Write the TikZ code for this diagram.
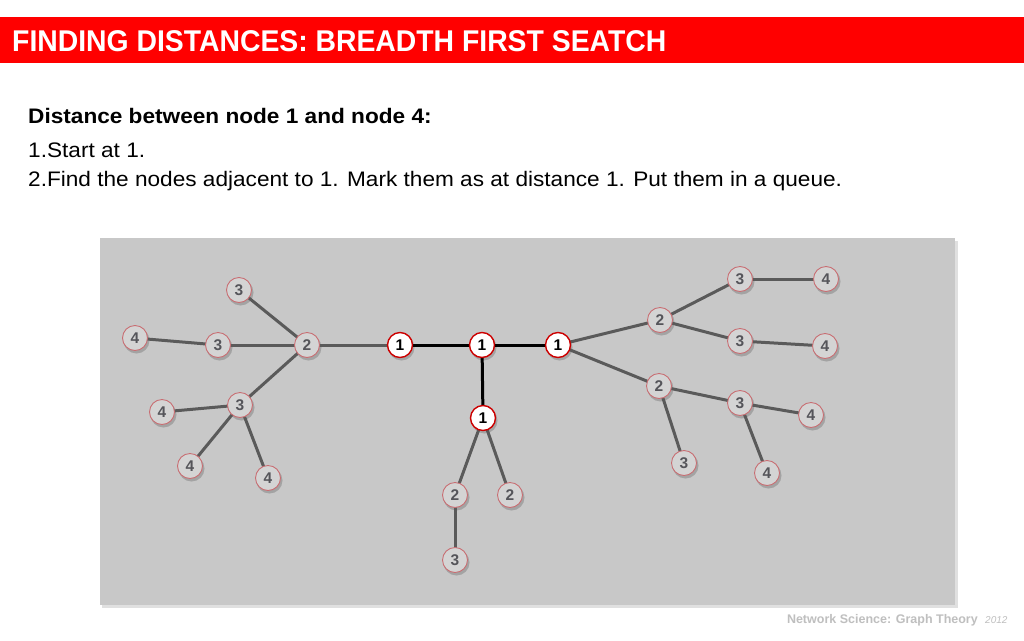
\documentclass[tikz,border=0pt]{standalone}
\usepackage{fontspec}
\setmainfont{Liberation Sans}
\pgfdeclarelayer{back}
\pgfdeclarelayer{edges}
\pgfsetlayers{back,edges,main}
\begin{document}
\begin{tikzpicture}[x=1pt,y=-1pt,
  gnode/.style={circle,draw=nodeborder,line width=0.9pt,fill=nodefill,minimum size=25pt,inner sep=0pt,font=\fontsize{15.5}{15.5}\selectfont\bfseries,text=nodetext},
  wnode/.style={circle,draw=red!80!black,line width=1.4pt,fill=white,minimum size=25pt,inner sep=0pt,font=\fontsize{15.5}{15.5}\selectfont\bfseries,text=black},
  gedge/.style={draw=edgegray,line width=3pt},
  bedge/.style={draw=black,line width=3pt},
  shadowc/.style={fill=black,opacity=0.18,circle,minimum size=26pt,inner sep=0pt}
]
\definecolor{nodeborder}{RGB}{200,110,115}
\definecolor{nodefill}{RGB}{212,212,212}
\definecolor{nodetext}{RGB}{85,85,90}
\definecolor{edgegray}{RGB}{90,90,90}
\definecolor{boxgray}{RGB}{200,200,200}
\definecolor{titlered}{RGB}{255,0,0}
\useasboundingbox (0,0) rectangle (1024,640);
\begin{pgfonlayer}{back}
\fill[white] (0,0) rectangle (1024,640);
\fill[black,opacity=0.12] (102,241) rectangle (958,608);
\fill[boxgray] (100,238) rectangle (955,605);
\end{pgfonlayer}
% title bar
\fill[titlered] (0,17) rectangle (1024,63);
\node[anchor=base west,inner sep=0pt,text=white,font=\fontsize{30}{30}\selectfont\bfseries,xscale=0.945] (title) at (12,51) {FINDING DISTANCES: BREADTH FIRST SEATCH};
% text
\node[anchor=base west,inner sep=0pt,font=\fontsize{21}{21}\selectfont\bfseries,xscale=1.077] (t1) at (28,123) {Distance between node 1 and node 4:};
\node[anchor=base west,inner sep=0pt,font=\fontsize{21}{21}\selectfont,xscale=1.077] (t2) at (28,157) {1.Start at 1.};
\node[anchor=base west,inner sep=0pt,font=\fontsize{21}{21}\selectfont,xscale=1.077] (t3) at (28,186) {2.Find the nodes adjacent to 1. Mark them as at distance 1. Put them in a queue.};
% footer
\node[anchor=base east,inner sep=0pt,text=black!25,font=\fontsize{12.5}{12.5}\selectfont\bfseries] (foot) at (978,623) {Network Science: Graph Theory};
\node[anchor=base west,inner sep=0pt,text=black!25,font=\fontsize{10}{10}\selectfont\itshape] (year) at (985,623) {2012};
% node positions
\coordinate (pA) at (400,345);
\coordinate (pB) at (482,345);
\coordinate (pC) at (558,345);
\coordinate (pD) at (483,418);
\coordinate (pL2) at (307,345);
\coordinate (pL3a) at (239,290);
\coordinate (pL3b) at (218,345);
\coordinate (pL3c) at (240,405);
\coordinate (pL4a) at (135,338);
\coordinate (pL4b) at (162,412);
\coordinate (pL4c) at (190,466);
\coordinate (pL4d) at (268,478);
\coordinate (pM2a) at (455,495);
\coordinate (pM2b) at (510,495);
\coordinate (pM3) at (455,560);
\coordinate (pR2a) at (660,320);
\coordinate (pR2b) at (659,386);
\coordinate (pR3a) at (740,279);
\coordinate (pR3b) at (740,341);
\coordinate (pR3c) at (740,403);
\coordinate (pR3d) at (684,463);
\coordinate (pR4a) at (826,279);
\coordinate (pR4b) at (825,346);
\coordinate (pR4c) at (811,415);
\coordinate (pR4d) at (767,473);
% shadows
\begin{pgfonlayer}{back}
\foreach \p in {pA,pB,pC,pD,pL2,pL3a,pL3b,pL3c,pL4a,pL4b,pL4c,pL4d,pM2a,pM2b,pM3,pR2a,pR2b,pR3a,pR3b,pR3c,pR3d,pR4a,pR4b,pR4c,pR4d}
  \node[shadowc] at ([shift={(1.5,2.5)}]\p) {};
\end{pgfonlayer}
% nodes
\node[wnode] (A) at (pA) {1};
\node[wnode] (B) at (pB) {1};
\node[wnode] (C) at (pC) {1};
\node[wnode] (D) at (pD) {1};
\node[gnode] (L2) at (pL2) {2};
\node[gnode] (L3a) at (pL3a) {3};
\node[gnode] (L3b) at (pL3b) {3};
\node[gnode] (L3c) at (pL3c) {3};
\node[gnode] (L4a) at (pL4a) {4};
\node[gnode] (L4b) at (pL4b) {4};
\node[gnode] (L4c) at (pL4c) {4};
\node[gnode] (L4d) at (pL4d) {4};
\node[gnode] (M2a) at (pM2a) {2};
\node[gnode] (M2b) at (pM2b) {2};
\node[gnode] (M3) at (pM3) {3};
\node[gnode] (R2a) at (pR2a) {2};
\node[gnode] (R2b) at (pR2b) {2};
\node[gnode] (R3a) at (pR3a) {3};
\node[gnode] (R3b) at (pR3b) {3};
\node[gnode] (R3c) at (pR3c) {3};
\node[gnode] (R3d) at (pR3d) {3};
\node[gnode] (R4a) at (pR4a) {4};
\node[gnode] (R4b) at (pR4b) {4};
\node[gnode] (R4c) at (pR4c) {4};
\node[gnode] (R4d) at (pR4d) {4};
% edges
\begin{pgfonlayer}{edges}
\draw[bedge] (A.center) -- (B.center);
\draw[bedge] (B.center) -- (C.center);
\draw[bedge] (B.center) -- (D.center);
\draw[gedge] (A.center) -- (L2.center);
\draw[gedge] (L2.center) -- (L3a.center);
\draw[gedge] (L2.center) -- (L3b.center);
\draw[gedge] (L2.center) -- (L3c.center);
\draw[gedge] (L3b.center) -- (L4a.center);
\draw[gedge] (L3c.center) -- (L4b.center);
\draw[gedge] (L3c.center) -- (L4c.center);
\draw[gedge] (L3c.center) -- (L4d.center);
\draw[gedge] (D.center) -- (M2a.center);
\draw[gedge] (D.center) -- (M2b.center);
\draw[gedge] (M2a.center) -- (M3.center);
\draw[gedge] (C.center) -- (R2a.center);
\draw[gedge] (C.center) -- (R2b.center);
\draw[gedge] (R2a.center) -- (R3a.center);
\draw[gedge] (R2a.center) -- (R3b.center);
\draw[gedge] (R3a.center) -- (R4a.center);
\draw[gedge] (R3b.center) -- (R4b.center);
\draw[gedge] (R2b.center) -- (R3c.center);
\draw[gedge] (R2b.center) -- (R3d.center);
\draw[gedge] (R3c.center) -- (R4c.center);
\draw[gedge] (R3c.center) -- (R4d.center);
\end{pgfonlayer}
\end{tikzpicture}
\end{document}
